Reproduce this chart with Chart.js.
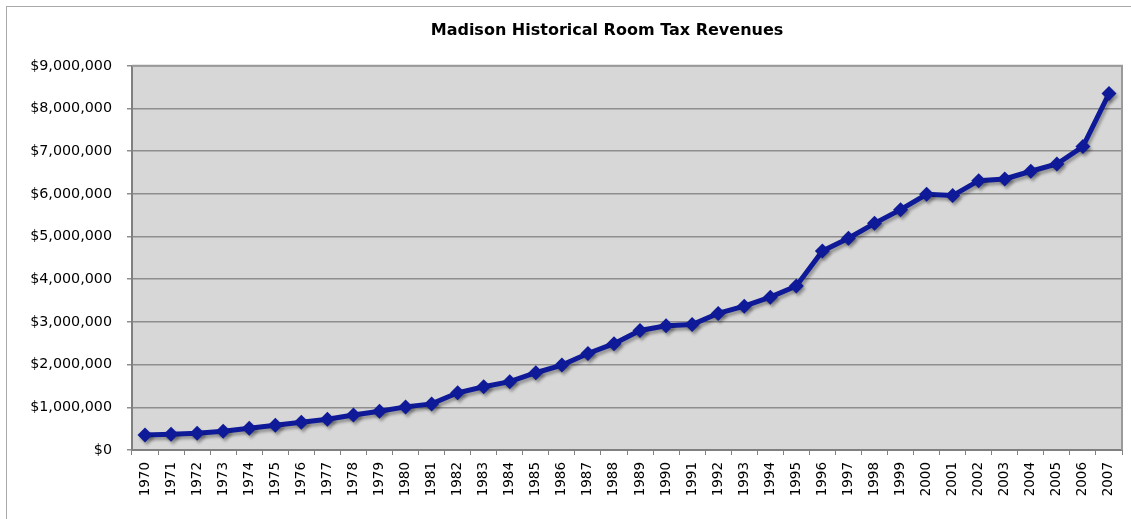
<!DOCTYPE html>
<html>
<head>
<meta charset="utf-8">
<script src="https://cdn.jsdelivr.net/npm/chart.js@4/dist/chart.umd.min.js"></script>
<style>
  html, body { margin: 0; padding: 0; background: #fff; overflow: hidden; width: 1131px; height: 519px; }
  #frame { position: absolute; left: 6px; top: 6px; width: 1300px; height: 600px; border-left: 1px solid #a8a8a8; border-top: 1px solid #a8a8a8; }
  #wrap { position: absolute; left: 0px; top: 0px; width: 1200px; height: 512px; }
</style>
</head>
<body>
<div id="frame"><div id="wrap"><canvas id="c" width="1200" height="512"></canvas></div></div>
<script>
const years = ['1970','1971','1972','1973','1974','1975','1976','1977','1978','1979',
  '1980','1981','1982','1983','1984','1985','1986','1987','1988','1989',
  '1990','1991','1992','1993','1994','1995','1996','1997','1998','1999',
  '2000','2001','2002','2003','2004','2005','2006','2007'];
const revenues = [350000, 370000, 390000, 440000, 510000, 580000, 650000, 720000, 820000, 910000,
  1010000, 1080000, 1340000, 1480000, 1600000, 1810000, 1990000, 2260000, 2490000, 2800000,
  2910000, 2940000, 3200000, 3370000, 3580000, 3840000, 4660000, 4960000, 5310000, 5630000,
  5990000, 5960000, 6310000, 6350000, 6530000, 6700000, 7110000, 8350000];
const yTicks = [0, 1000000, 2000000, 3000000, 4000000, 5000000, 6000000, 7000000, 8000000, 9000000];
const chartTitle = 'Madison Historical Room Tax Revenues';

const areaPlugin = {
  id: 'areaPlugin',
  beforeDraw(chart) {
    const {ctx, chartArea: a} = chart;
    ctx.save();
    ctx.fillStyle = '#d7d7d7';
    ctx.fillRect(a.left, a.top, a.right - a.left, a.bottom - a.top);
    ctx.restore();
  },
  beforeDatasetsDraw(chart) {
    const {ctx, chartArea: a} = chart;
    ctx.save();
    ctx.strokeStyle = '#9a9a9a';
    ctx.lineWidth = 2;
    ctx.beginPath();
    ctx.moveTo(a.left, a.top);
    ctx.lineTo(a.right, a.top);
    ctx.lineTo(a.right, a.bottom);
    ctx.stroke();
    ctx.restore();
    ctx.save();
    ctx.shadowColor = 'rgba(0,0,0,0.3)';
    ctx.shadowOffsetX = 2;
    ctx.shadowOffsetY = 3;
    ctx.shadowBlur = 3;
  },
  afterDatasetsDraw(chart) {
    chart.ctx.restore();
  }
};

new Chart(document.getElementById('c'), {
  type: 'line',
  data: {
    labels: years,
    datasets: [{
      label: 'Room Tax Revenue',
      data: revenues,
      borderColor: '#0f1a99',
      backgroundColor: '#0f1a99',
      borderWidth: 5,
      pointStyle: 'rectRot',
      pointRadius: 7.5,
      pointHoverRadius: 7.5,
      pointBorderWidth: 0,
      tension: 0,
      fill: false,
      yAxisID: 'y'
    }]
  },
  options: {
    responsive: false,
    animation: false,
    events: [],
    layout: { padding: 0 },
    plugins: {
      legend: { display: false },
      tooltip: { enabled: false },
      title: {
        display: true,
        text: chartTitle,
        color: '#000',
        font: { family: 'DejaVu Sans', size: 16, weight: 'bold', lineHeight: 1.2 },
        padding: { top: 14.6, bottom: 25 }
      }
    },
    scales: {
      x: {
        type: 'category',
        offset: true,
        border: { display: true, color: '#808080', width: 2 },
        grid: { display: true, drawOnChartArea: false, drawTicks: true, tickLength: 5, offset: true, color: '#808080' },
        ticks: {
          color: '#000',
          font: { family: 'DejaVu Sans', size: 13.5 },
          minRotation: 90, maxRotation: 90,
          autoSkip: false,
          padding: 7
        },
        afterFit(scale) { scale.height = 69; }
      },
      y: {
        position: 'left',
        min: 0, max: 9000000,
        border: { display: true, color: '#808080', width: 2 },
        grid: { color: '#8e8e8e', lineWidth: 1.5, tickLength: 5, drawTicks: true },
        afterBuildTicks(scale) { scale.ticks = yTicks.map(v => ({ value: v })); },
        ticks: {
          color: '#000',
          font: { family: 'DejaVu Sans', size: 14.3 },
          padding: 15,
          callback: v => '$' + Number(v).toLocaleString('en-US')
        },
        afterFit(scale) { scale.width = 125; }
      },
      spacer: {
        position: 'right',
        display: true,
        min: 0, max: 1,
        border: { display: false },
        grid: { display: false, drawTicks: false },
        ticks: { display: false },
        afterFit(scale) { scale.width = 85; }
      }
    }
  },
  plugins: [areaPlugin]
});
</script>
</body>
</html>
